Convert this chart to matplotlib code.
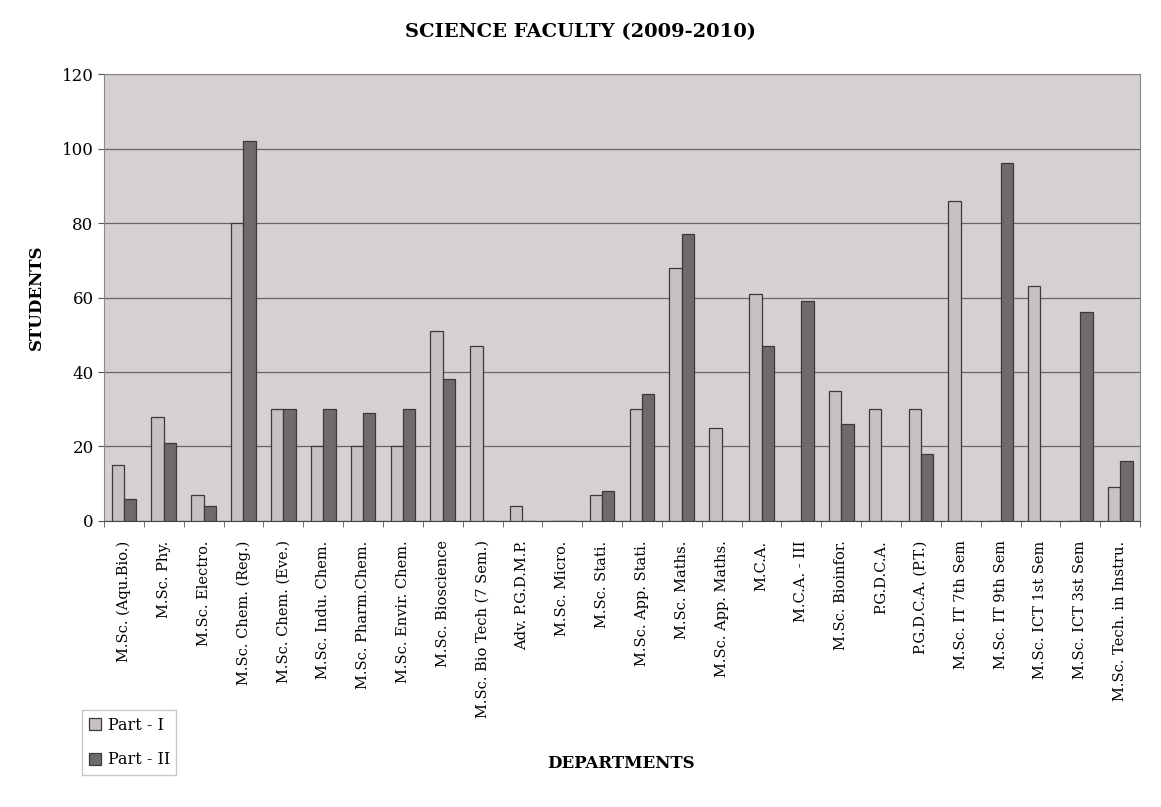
import matplotlib.pyplot as plt
import numpy as np

departments = [
    'M.Sc. (Aqu.Bio.)', 'M.Sc. Phy.', 'M.Sc. Electro.', 'M.Sc. Chem. (Reg.)',
    'M.Sc. Chem. (Eve.)', 'M.Sc. Indu. Chem.', 'M.Sc. Pharm.Chem.',
    'M.Sc. Envir. Chem.', 'M.Sc. Bioscience', 'M.Sc. Bio Tech (7 Sem.)',
    'Adv. P.G.D.M.P.', 'M.Sc. Micro.', 'M.Sc. Stati.', 'M.Sc. App. Stati.',
    'M.Sc. Maths.', 'M.Sc. App. Maths.', 'M.C.A.', 'M.C.A. - III',
    'M.Sc. Bioinfor.', 'P.G.D.C.A.', 'P.G.D.C.A. (P.T.)', 'M.Sc. IT 7th Sem',
    'M.Sc. IT 9th Sem', 'M.Sc. ICT 1st Sem', 'M.Sc. ICT 3st Sem',
    'M.Sc. Tech. in Instru.',
]
part1 = [15, 28, 7, 80, 30, 20, 20, 20, 51, 47, 4, 0, 7, 30, 68, 25, 61, 0,
         35, 30, 30, 86, 0, 63, 0, 9]
part2 = [6, 21, 4, 102, 30, 30, 29, 30, 38, 0, 0, 0, 8, 34, 77, 0, 47, 59,
         26, 0, 18, 0, 96, 0, 56, 16]

plt.rcParams['font.family'] = ['DejaVu Serif']

fig = plt.figure(figsize=(11.61, 8.07), dpi=100)
ax = fig.add_axes([0.0896, 0.3544, 0.8924, 0.5539])
ax.set_facecolor('#d4d0d3')

x = np.arange(len(departments))
w = 0.31
ax.bar(x - w / 2, part1, w, color='#c6c2c4', edgecolor='#3a3a3a', linewidth=0.9, label='Part - I', zorder=3)
ax.bar(x + w / 2, part2, w, color='#6f6b6d', edgecolor='#3a3a3a', linewidth=0.9, label='Part - II', zorder=3)

ax.set_xlim(-0.5, len(departments) - 0.5)
ax.set_ylim(0, 120)
ax.set_yticks(range(0, 121, 20))
ax.yaxis.grid(True, color='#666666', linewidth=0.9, zorder=0)
ax.set_xticks(x)
ax.set_xticklabels(departments, rotation=90, fontsize=10.5)
ax.set_xticks(np.arange(-0.5, len(departments), 1), minor=True)
ax.tick_params(axis='x', which='major', length=0, pad=14)
ax.tick_params(axis='x', which='minor', length=4, color='#555555')
ax.tick_params(axis='y', labelsize=12, length=4, color='#555555')
for s in ax.spines.values():
    s.set_color('#888888')
ax.spines['bottom'].set_color('#444444')

fig.suptitle('SCIENCE FACULTY (2009-2010)', fontsize=14, fontweight='bold', y=0.972)
ax.set_ylabel('STUDENTS', fontsize=12, fontweight='bold', labelpad=12)
fig.text(0.535, 0.048, 'DEPARTMENTS', ha='center', fontsize=12, fontweight='bold')

fig.legend(loc='lower left', bbox_to_anchor=(0.064, 0.03), fontsize=11.5,
           frameon=True, fancybox=False, edgecolor='#bbbbbb',
           handlelength=0.8, handleheight=0.8, handletextpad=0.4, labelspacing=1.1)

fig.savefig('out.png', dpi=100)
